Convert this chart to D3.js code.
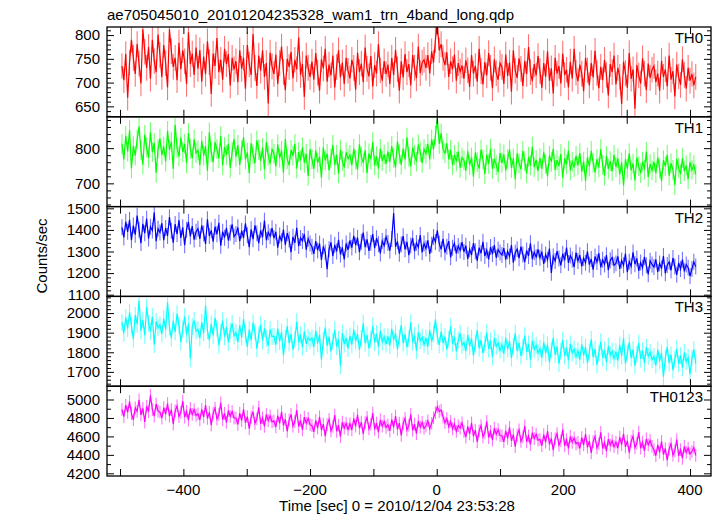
<!DOCTYPE html>
<html><head><meta charset="utf-8">
<script src="https://cdn.jsdelivr.net/npm/d3@7"></script>
<style>body{margin:0;background:#fff}svg{display:block}text{font-family:"Liberation Sans",Arial,sans-serif;fill:#000}</style>
</head><body><svg id="c" width="717" height="516"></svg>
<script>
const title = "ae705045010_20101204235328_wam1_trn_4band_long.qdp";
const xLabel = "Time [sec] 0 = 2010/12/04 23:53:28";
const yLabel = "Counts/sec";
const panelNames = ["TH0", "TH1", "TH2", "TH3", "TH0123"];
const colors = ["#ff0000", "#00ff00", "#0000ff", "#00ffff", "#ff00ff"];
const tStart = -497, tStep = 3;
const xTicks = [-500, -400, -300, -200, -100, 0, 100, 200, 300, 400];
const xTickLabels = [-400, -200, 0, 200, 400];
const xDomain = [-520.6, 433.1];
const yDomains = [[628, 817], [634, 889], [1092, 1508], [1627, 2085], [4171, 5144]];
const yMajor = [50, 100, 100, 100, 200];
const yMinor = [10, 20, 20, 20, 100];
const errs = [27, 28, 37, 43, 69];

const th0 = [
735,705,760,668,742,790,752,718,781,740,698,812,765,731,775,708,790,745,722,801,
758,712,779,741,690,812,766,733,752,705,784,728,768,745,697,806,739,761,716,774,
729,768,702,755,718,787,743,676,761,735,794,722,748,706,771,739,760,694,752,728,
745,701,768,729,752,687,779,738,716,802,731,693,757,725,768,712,741,656,763,734,
718,759,697,741,776,722,684,750,733,765,709,748,728,795,716,739,670,757,731,712,
744,706,762,721,683,749,730,771,702,738,715,757,690,733,768,711,742,697,752,725,
709,748,731,685,763,722,740,701,774,729,713,756,692,737,719,781,726,704,745,718,
738,697,752,716,769,728,683,745,711,760,722,739,694,758,731,709,776,720,742,748,
731,758,719,766,742,790,825,768,781,752,737,764,712,745,728,759,704,741,723,736,
708,747,726,691,758,719,735,702,771,724,696,743,715,762,731,688,749,720,706,741,
733,697,759,714,742,681,768,725,710,751,729,693,746,718,775,722,703,739,715,756,
724,689,741,712,766,704,730,677,752,719,735,698,761,716,727,690,744,708,771,721,
703,738,719,682,752,726,694,741,711,767,720,688,733,705,748,716,673,739,722,757,
696,731,712,655,744,720,689,762,708,728,645,737,715,698,751,719,684,740,710,727,
735,701,719,683,746,712,728,692,757,706,724,671,738,713,695,749,716,687,731,704,
718,694,712];

const th1 = [
812,768,835,790,851,742,806,779,824,861,795,754,838,802,773,846,789,815,730,798,
827,781,804,762,849,795,818,741,866,801,776,830,789,812,757,843,798,771,825,786,
794,752,821,779,806,736,845,788,760,817,797,771,834,752,803,781,812,744,790,826,
776,809,752,795,831,768,788,729,814,783,757,822,795,763,801,740,817,779,756,798,
784,748,811,772,793,730,826,769,751,795,778,812,742,789,765,802,758,784,721,797,
769,741,793,758,776,716,802,765,784,737,771,809,752,781,728,796,763,745,788,770,
781,752,799,767,739,811,776,758,794,729,785,768,817,751,777,742,798,764,782,755,
790,761,806,772,745,819,783,753,799,768,830,776,748,802,781,762,811,789,758,797,
784,812,768,825,797,836,884,812,842,796,785,814,768,795,752,781,762,790,744,773,
765,736,791,752,774,719,788,760,742,796,768,727,781,755,799,741,770,752,732,786,
758,782,737,769,796,744,771,712,785,757,740,792,763,728,775,751,804,746,767,735,
772,741,788,755,720,779,761,798,738,766,749,783,716,771,754,793,737,762,745,778,
751,786,733,762,707,774,748,792,759,731,769,745,797,752,722,778,741,763,734,781,
746,771,725,759,694,768,742,785,737,756,708,773,749,729,762,740,790,718,755,737,
761,729,774,742,706,766,748,781,722,757,738,695,769,744,726,772,735,751,712,760,
738,752,726];

const th2 = [
1412,1365,1438,1391,1447,1352,1420,1378,1466,1401,1339,1428,1385,1452,1360,1415,1397,1481,1348,1406,
1388,1431,1352,1409,1372,1459,1396,1341,1427,1380,1445,1363,1412,1329,1401,1437,1370,1418,1355,1392,
1406,1358,1421,1383,1335,1449,1372,1398,1346,1415,1380,1433,1327,1392,1364,1410,1351,1387,1426,1369,
1381,1412,1348,1396,1363,1430,1375,1320,1403,1357,1421,1384,1339,1398,1366,1443,1352,1389,1371,1408,
1362,1391,1318,1374,1347,1402,1331,1385,1356,1297,1368,1340,1410,1325,1363,1349,1381,1308,1359,1337,
1322,1289,1348,1305,1337,1261,1324,1296,1218,1310,1342,1279,1331,1300,1354,1286,1319,1263,1337,1308,
1351,1318,1372,1329,1364,1297,1345,1388,1320,1356,1303,1340,1381,1315,1362,1334,1291,1349,1327,1368,
1339,1304,1358,1478,1322,1347,1290,1333,1371,1310,1345,1283,1328,1362,1301,1340,1319,1376,1296,1337,
1314,1352,1289,1331,1367,1344,1398,1336,1310,1359,1295,1322,1348,1273,1317,1339,1291,1326,1305,1343,
1298,1327,1266,1310,1284,1339,1301,1257,1318,1292,1345,1279,1306,1263,1321,1288,1330,1271,1309,1295,
1284,1316,1262,1301,1277,1330,1248,1294,1311,1269,1323,1286,1251,1305,1279,1338,1265,1297,1274,1310,
1271,1299,1243,1286,1262,1314,1201,1277,1256,1302,1268,1236,1290,1259,1318,1247,1281,1263,1228,1295,
1256,1283,1231,1270,1248,1301,1239,1265,1216,1277,1251,1292,1227,1262,1240,1283,1214,1259,1272,1236,
1245,1277,1219,1258,1236,1290,1204,1253,1232,1296,1241,1268,1210,1249,1225,1275,1236,1194,1257,1240,
1228,1263,1206,1245,1221,1279,1199,1237,1252,1213,1270,1230,1192,1247,1219,1262,1208,1240,1225,1186,
1219,1252,1230];

const th3 = [
1952,1897,1978,1921,2004,1936,1868,1989,1943,2062,1910,1965,1887,2031,1948,1906,1981,1839,1957,1925,
1941,1893,1972,1915,2055,1928,1874,1960,1904,1996,1937,1852,1919,1983,1890,1946,1767,1930,1962,1908,
1917,1872,1953,1898,2039,1910,1861,1944,1886,1975,1923,1835,1902,1961,1879,1930,1851,1908,1947,1884,
1901,1852,1938,1876,1969,1893,1827,1916,1862,1950,1904,1818,1889,1941,1859,1922,1873,1834,1917,1880,
1882,1839,1921,1855,1903,1784,1870,1932,1847,1893,1814,1866,1956,1851,1889,1826,1907,1843,1875,1860,
1873,1828,1910,1845,1889,1762,1861,1926,1834,1880,1805,1857,1915,1829,1866,1731,1898,1842,1873,1820,
1884,1839,1916,1857,1893,1812,1871,1948,1846,1888,1820,1865,1934,1850,1895,1827,1909,1853,1879,1842,
1881,1834,1920,1862,1896,1815,1874,1939,1847,1891,1826,1869,1951,1852,1885,1808,1902,1858,1877,1840,
1873,1829,1912,1855,1894,1968,1881,1838,1905,1847,1880,1815,1866,1932,1843,1879,1804,1862,1897,1836,
1851,1806,1889,1831,1870,1783,1846,1912,1820,1862,1795,1841,1901,1817,1858,1776,1873,1829,1848,1810,
1839,1792,1874,1816,1857,1770,1831,1897,1806,1848,1782,1826,1885,1802,1843,1761,1860,1815,1836,1797,
1819,1773,1851,1795,1838,1750,1812,1874,1787,1829,1742,1806,1862,1781,1824,1758,1843,1796,1817,1778,
1808,1762,1841,1784,1827,1746,1801,1866,1775,1816,1736,1795,1853,1771,1812,1749,1833,1785,1806,1769,
1803,1757,1838,1781,1872,1742,1796,1851,1770,1813,1732,1790,1847,1766,1808,1744,1826,1779,1801,1763,
1779,1733,1812,1756,1795,1676,1770,1826,1745,1788,1709,1764,1818,1741,1783,1722,1800,1752,1774,1688,
1768,1815,1742];

const th0123 = [
4892,4815,4938,4861,4976,4847,4781,4910,4872,4995,4833,4904,4756,4926,4868,5045,4889,4820,4951,4874,
4863,4798,4912,4841,4955,4820,4889,4734,4877,4930,4815,4861,4982,4809,4872,4776,4904,4838,4891,4827,
4845,4779,4893,4812,4940,4796,4861,4723,4852,4907,4788,4835,4963,4780,4849,4752,4881,4816,4869,4801,
4798,4731,4852,4770,4893,4747,4815,4684,4809,4867,4742,4790,4915,4736,4802,4709,4838,4771,4823,4758,
4768,4702,4825,4741,4866,4719,4785,4655,4779,4838,4712,4761,4884,4706,4773,4671,4808,4742,4795,4727,
4716,4650,4774,4689,4812,4668,4733,4603,4728,4784,4661,4709,4831,4655,4721,4598,4756,4690,4742,4675,
4737,4671,4794,4710,4833,4688,4755,4628,4749,4806,4682,4730,4852,4676,4743,4645,4779,4711,4764,4697,
4726,4660,4783,4699,4821,4677,4743,4612,4738,4795,4671,4719,4840,4665,4732,4630,4768,4700,4752,4686,
4712,4768,4684,4741,4802,4858,4921,4869,4886,4812,4748,4793,4706,4762,4681,4734,4655,4718,4690,4747,
4655,4592,4709,4627,4746,4603,4668,4541,4661,4718,4596,4642,4763,4588,4655,4560,4690,4624,4673,4609,
4606,4541,4660,4578,4697,4553,4619,4489,4614,4670,4547,4594,4713,4540,4606,4512,4641,4576,4624,4559,
4566,4501,4619,4538,4657,4514,4579,4452,4573,4630,4506,4553,4674,4499,4566,4470,4601,4536,4584,4520,
4535,4470,4588,4507,4626,4483,4548,4421,4543,4599,4476,4523,4643,4469,4535,4441,4570,4505,4553,4489,
4538,4473,4591,4510,4629,4486,4551,4424,4546,4602,4479,4526,4646,4472,4538,4444,4573,4508,4556,4492,
4456,4391,4509,4428,4547,4404,4469,4342,4464,4520,4397,4444,4565,4390,4456,4362,4491,4426,4474,4410,
4436,4480,4395];

const series = [th0, th1, th2, th3, th0123];

const svg = d3.select("#c");
const L = 107, R = 711, T = 27, B = 476;
const ph = (B - T) / 5;
const x = d3.scaleLinear().domain(xDomain).range([L, R]);

svg.append("text").attr("x", L).attr("y", 20).attr("font-size", 15).text(title);

series.forEach((vals, k) => {
  const top = T + k * ph, bot = top + ph;
  const y = d3.scaleLinear().domain(yDomains[k]).range([bot, top]);
  const g = svg.append("g");
  const cid = "clip" + k;
  svg.append("clipPath").attr("id", cid).append("rect")
    .attr("x", L).attr("y", top).attr("width", R - L).attr("height", ph);
  const data = vals.map((v, i) => ({t: tStart + i * tStep, v}));
  const dg = g.append("g").attr("clip-path", `url(#${cid})`);
  dg.selectAll("line.err").data(data).join("line").attr("class", "err")
    .attr("x1", d => x(d.t)).attr("x2", d => x(d.t))
    .attr("y1", d => y(d.v - errs[k])).attr("y2", d => y(d.v + errs[k]))
    .attr("stroke", colors[k]).attr("stroke-opacity", 0.55).attr("stroke-width", 1.1);
  dg.append("path").datum(data)
    .attr("d", d3.line().x(d => x(d.t)).y(d => y(d.v)))
    .attr("fill", "none").attr("stroke", colors[k]).attr("stroke-width", 1.2);

  g.append("g").attr("transform", `translate(0,${bot})`)
    .call(d3.axisTop(x).tickValues(xTicks).tickSize(7).tickFormat(""))
    .call(a => a.select(".domain").remove());
  g.append("g").attr("transform", `translate(0,${top})`)
    .call(d3.axisBottom(x).tickValues(xTicks).tickSize(7).tickFormat(""))
    .call(a => a.select(".domain").remove());

  const [y0, y1] = yDomains[k];
  const minorVals = d3.range(Math.ceil(y0 / yMinor[k]) * yMinor[k], y1, yMinor[k]).filter(v => v % yMajor[k] !== 0);
  const majorVals = d3.range(Math.ceil(y0 / yMajor[k]) * yMajor[k], y1, yMajor[k]);
  g.append("g").attr("transform", `translate(${L},0)`)
    .call(d3.axisRight(y).tickValues(majorVals).tickSize(7).tickFormat(""))
    .call(a => a.select(".domain").remove());
  g.append("g").attr("transform", `translate(${L},0)`)
    .call(d3.axisRight(y).tickValues(minorVals).tickSize(4).tickFormat(""))
    .call(a => a.select(".domain").remove());
  g.append("g").attr("transform", `translate(${R},0)`)
    .call(d3.axisLeft(y).tickValues(majorVals).tickSize(7).tickFormat(""))
    .call(a => a.select(".domain").remove());
  g.append("g").attr("transform", `translate(${R},0)`)
    .call(d3.axisLeft(y).tickValues(minorVals).tickSize(4).tickFormat(""))
    .call(a => a.select(".domain").remove());
  g.selectAll("text.yl").data(majorVals).join("text").attr("class", "yl")
    .attr("x", L - 7).attr("y", d => y(d)).attr("dy", "0.36em")
    .attr("text-anchor", "end").attr("font-size", 15).text(d => d);
  g.append("rect").attr("x", L).attr("y", top).attr("width", R - L).attr("height", ph)
    .attr("fill", "none").attr("stroke", "#000").attr("stroke-width", 1.3);
  g.append("text").attr("x", R - 8).attr("y", top + 16).attr("text-anchor", "end")
    .attr("font-size", 15).text(panelNames[k]);
});
svg.selectAll(".tick line").attr("stroke", "#000");

svg.selectAll("text.xl").data(xTickLabels).join("text").attr("class", "xl")
  .attr("x", d => x(d)).attr("y", 495).attr("text-anchor", "middle").attr("font-size", 15)
  .text(d => d3.format("")(d));
svg.append("text").attr("x", (L + R) / 2 - 12).attr("y", 511).attr("text-anchor", "middle")
  .attr("font-size", 15).text(xLabel);
svg.append("text").attr("transform", "translate(47,256) rotate(-90)")
  .attr("text-anchor", "middle").attr("font-size", 15).text(yLabel);
</script></body></html>
